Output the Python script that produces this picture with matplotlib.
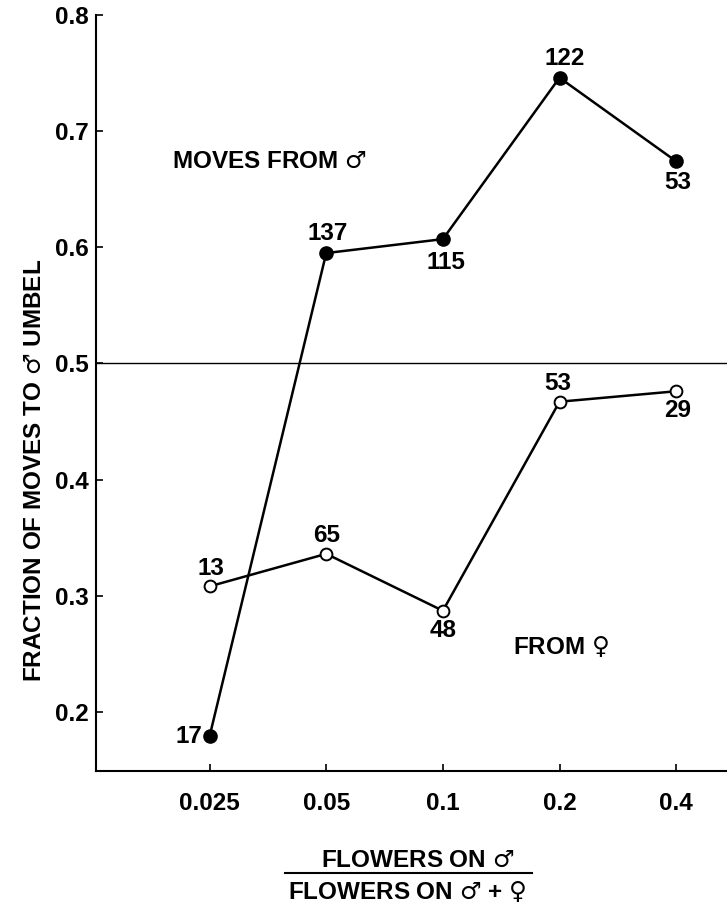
import matplotlib
matplotlib.use('Agg')
import matplotlib.pyplot as plt
from matplotlib.lines import Line2D

# data
ratio = [0.025, 0.05, 0.1, 0.2, 0.4]
tick_labels = ['0.025', '0.05', '0.1', '0.2', '0.4']
from_male = [0.179, 0.595, 0.607, 0.746, 0.674]
from_female = [0.308, 0.336, 0.287, 0.467, 0.476]
n_male = [17, 137, 115, 122, 53]
n_female = [13, 65, 48, 53, 29]

# label offsets (points) for the sample sizes
off_male = [(-15, 0), (1, 14), (2, -17), (4, 14), (1, -15)]
off_female = [(1, 13), (0, 13), (0, -14), (-1, 13), (1, -14)]

plt.rcParams['font.family'] = ['Liberation Sans', 'DejaVu Sans']
plt.rcParams['font.weight'] = 'bold'
# sex symbols come from DejaVu via mathtext
plt.rcParams['mathtext.fontset'] = 'custom'
plt.rcParams['mathtext.rm'] = 'DejaVu Sans:bold'
plt.rcParams['mathtext.default'] = 'rm'
fs = 17.5
MALE = r'$\mathrm{\u2642}$'.replace(r'\u2642', '\u2642')
FEMALE = r'$\mathrm{\u2640}$'.replace(r'\u2640', '\u2640')

fig = plt.figure(figsize=(7.27, 9.07), dpi=100)
ax = fig.add_axes([96 / 727, 136 / 907, 631 / 727, 756 / 907])

ax.axhline(0.5, color='black', lw=1.0, zorder=1)

ax.plot(ratio, from_male, '-o', color='black', lw=1.8, ms=9.5,
        mfc='black', mec='black', zorder=3)
ax.plot(ratio, from_female, '-o', color='black', lw=1.8, ms=8.5,
        mfc='white', mec='black', mew=1.4, zorder=3)

for x, y, n, (dx, dy) in zip(ratio, from_male, n_male, off_male):
    ax.annotate(str(n), (x, y), xytext=(dx, dy), textcoords='offset points',
                ha='center', va='center', fontsize=fs, fontweight='bold')
for x, y, n, (dx, dy) in zip(ratio, from_female, n_female, off_female):
    ax.annotate(str(n), (x, y), xytext=(dx, dy), textcoords='offset points',
                ha='center', va='center', fontsize=fs, fontweight='bold')

ax.set_xscale('log', base=2)
ax.set_xlim(0.025 / 2 ** 0.974, 0.4 * 2 ** 0.436)
ax.set_ylim(0.149, 0.8)
ax.set_xticks(ratio)
ax.set_xticklabels(tick_labels)
ax.xaxis.set_minor_locator(matplotlib.ticker.NullLocator())
ax.set_yticks([0.2, 0.3, 0.4, 0.5, 0.6, 0.7, 0.8])
ax.set_yticklabels(['0.2', '0.3', '0.4', '0.5', '0.6', '0.7', '0.8'])

ax.tick_params(axis='both', direction='in', length=5, width=1.2,
               labelsize=fs)
ax.tick_params(axis='x', pad=15)
ax.tick_params(axis='y', pad=5)
for lab in ax.get_xticklabels() + ax.get_yticklabels():
    lab.set_fontweight('bold')

for side in ['top', 'right']:
    ax.spines[side].set_visible(False)
for side in ['left', 'bottom']:
    ax.spines[side].set_linewidth(1.5)

ax.text(0.120, 0.806, 'MOVES FROM ' + MALE, transform=ax.transAxes,
        ha='left', va='center', fontsize=fs, fontweight='bold')
ax.text(0.661, 0.164, 'FROM ' + FEMALE, transform=ax.transAxes,
        ha='left', va='center', fontsize=fs, fontweight='bold')

# y label
fig.text(34 / 727, 1 - 470 / 907, 'FRACTION OF MOVES TO ' + MALE + ' UMBEL',
         rotation=90, ha='center', va='center', fontsize=fs, fontweight='bold')

# x label drawn as a fraction
fig.text(418 / 727, 1 - 860 / 907, 'FLOWERS ON ' + MALE,
         ha='center', va='center', fontsize=fs, fontweight='bold')
fig.add_artist(Line2D([285 / 727, 532 / 727], [1 - 873 / 907, 1 - 873 / 907],
                      transform=fig.transFigure, color='black', lw=1.5))
fig.text(407 / 727, 1 - 892 / 907, 'FLOWERS ON ' + MALE + ' + ' + FEMALE,
         ha='center', va='center', fontsize=fs, fontweight='bold')

fig.savefig('out.png', dpi=100, facecolor='white')
